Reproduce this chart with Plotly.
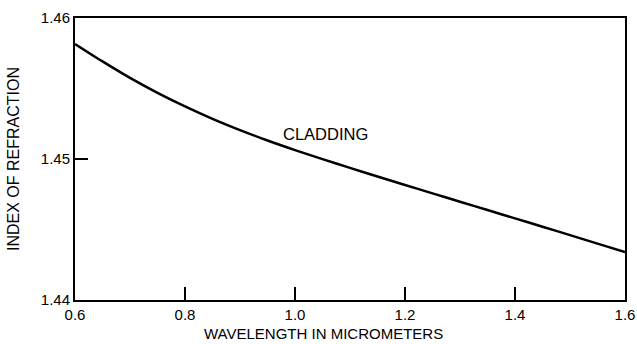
import plotly.graph_objects as go

# Refractive index of the cladding glass versus wavelength
wavelength_um = [0.60, 0.65, 0.70, 0.75, 0.80, 0.85, 0.90, 0.95, 1.00, 1.05, 1.10,
                 1.15, 1.20, 1.25, 1.30, 1.35, 1.40, 1.45, 1.50, 1.55, 1.60]
cladding_index = [1.45816, 1.45692, 1.45575, 1.45469, 1.45373, 1.45285, 1.45205,
                  1.45131, 1.45063, 1.44999, 1.44937, 1.44876, 1.44816, 1.44756,
                  1.44697, 1.44638, 1.44579, 1.44520, 1.44460, 1.44400, 1.44340]

x_ticks = [0.6, 0.8, 1.0, 1.2, 1.4, 1.6]
x_tick_text = ["0.6", "0.8", "1.0", "1.2", "1.4", "1.6"]
y_ticks = [1.44, 1.45, 1.46]
y_tick_text = ["1.44", "1.45", "1.46"]

curve_label = "CLADDING"
curve_label_at = (1.055, 1.4518)
x_title = "WAVELENGTH IN MICROMETERS"
y_title = "INDEX OF REFRACTION"

FONT = "Liberation Sans, Arial, Helvetica, sans-serif"

fig = go.Figure()
fig.add_trace(go.Scatter(
    x=wavelength_um, y=cladding_index, mode="lines",
    line=dict(color="black", width=2.5, shape="spline", smoothing=0.8),
    hoverinfo="skip", showlegend=False,
))

fig.add_annotation(
    x=curve_label_at[0], y=curve_label_at[1], text=curve_label,
    showarrow=False, font=dict(family=FONT, size=16.5, color="black"),
    xanchor="center", yanchor="middle",
)

# x-axis title, set slightly left of the plot centre
fig.add_annotation(
    x=0.451, y=0, xref="paper", yref="paper", yshift=-33,
    text=x_title, showarrow=False,
    font=dict(family=FONT, size=15, color="black"),
    xanchor="center", yanchor="middle",
)

axis_common = dict(
    showgrid=False, zeroline=False, showline=True, mirror=True,
    linecolor="black", linewidth=2, ticks="inside", ticklen=13,
    tickwidth=1.5, tickcolor="black",
    tickfont=dict(family=FONT, size=15, color="black"),
)

fig.update_xaxes(range=[0.6, 1.6], tickvals=x_ticks, ticktext=x_tick_text,
                 **axis_common)
fig.update_yaxes(
    range=[1.44, 1.46], tickvals=y_ticks, ticktext=y_tick_text,
    title=dict(text=y_title, font=dict(family=FONT, size=16, color="black"),
               standoff=17),
    **axis_common,
)

fig.update_layout(
    width=637, height=344,
    margin=dict(l=75, r=12, t=18, b=44, autoexpand=False),
    paper_bgcolor="white", plot_bgcolor="white",
)

fig.write_html("out.html")
